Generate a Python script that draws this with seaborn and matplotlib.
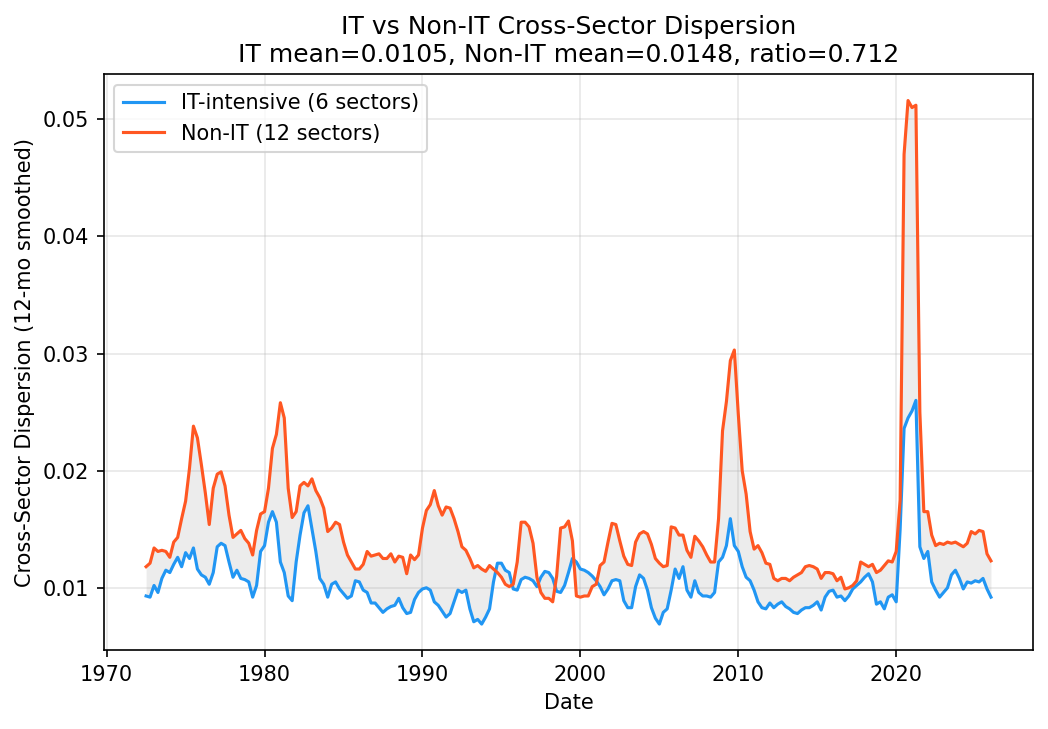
import pandas as pd
import numpy as np
import matplotlib
matplotlib.use("Agg")
import matplotlib.pyplot as plt
import seaborn as sns

# Quarterly samples, 1972 Q3 .. 2026 Q1
start_date = "1972-07-01"

it_vals = [
    0.0093, 0.0092,                          # 1972 (Q3, Q4)
    0.0102, 0.0096, 0.0108, 0.0115,          # 1973
    0.0113, 0.0120, 0.0126, 0.0118,          # 1974
    0.0130, 0.0125, 0.0134, 0.0116,          # 1975
    0.0111, 0.0109, 0.0103, 0.0113,          # 1976
    0.0135, 0.0138, 0.0136, 0.0122,          # 1977
    0.0109, 0.0115, 0.0108, 0.0107,          # 1978
    0.0105, 0.0092, 0.0102, 0.0131,          # 1979
    0.0136, 0.0156, 0.0165, 0.0156,          # 1980
    0.0122, 0.0113, 0.0093, 0.0089,          # 1981
    0.0122, 0.0145, 0.0164, 0.0170,          # 1982
    0.0150, 0.0131, 0.0108, 0.0103,          # 1983
    0.0092, 0.0103, 0.0105, 0.0099,          # 1984
    0.0095, 0.0091, 0.0093, 0.0106,          # 1985
    0.0105, 0.0098, 0.0096, 0.0087,          # 1986
    0.0087, 0.0083, 0.0079, 0.0082,          # 1987
    0.0084, 0.0085, 0.0091, 0.0083,          # 1988
    0.0078, 0.0079, 0.0090, 0.0096,          # 1989
    0.0099, 0.0100, 0.0098, 0.0088,          # 1990
    0.0085, 0.0080, 0.0075, 0.0078,          # 1991
    0.0088, 0.0098, 0.0096, 0.0098,          # 1992
    0.0082, 0.0071, 0.0073, 0.0069,          # 1993
    0.0075, 0.0082, 0.0105, 0.0121,          # 1994
    0.0121, 0.0115, 0.0113, 0.0099,          # 1995
    0.0098, 0.0107, 0.0109, 0.0108,          # 1996
    0.0106, 0.0101, 0.0109, 0.0114,          # 1997
    0.0113, 0.0108, 0.0097, 0.0096,          # 1998
    0.0102, 0.0113, 0.0125, 0.0122,          # 1999
    0.0116, 0.0115, 0.0113, 0.0110,          # 2000
    0.0106, 0.0101, 0.0094, 0.0099,          # 2001
    0.0106, 0.0107, 0.0106, 0.0089,          # 2002
    0.0083, 0.0083, 0.0101, 0.0111,          # 2003
    0.0108, 0.0098, 0.0083, 0.0074,          # 2004
    0.0069, 0.0079, 0.0082, 0.0098,          # 2005
    0.0116, 0.0108, 0.0118, 0.0098,          # 2006
    0.0092, 0.0106, 0.0096, 0.0093,          # 2007
    0.0093, 0.0092, 0.0096, 0.0122,          # 2008
    0.0126, 0.0136, 0.0159, 0.0136,          # 2009
    0.0131, 0.0118, 0.0109, 0.0106,          # 2010
    0.0098, 0.0088, 0.0083, 0.0082,          # 2011
    0.0087, 0.0083, 0.0086, 0.0088,          # 2012
    0.0084, 0.0082, 0.0079, 0.0078,          # 2013
    0.0081, 0.0083, 0.0083, 0.0085,          # 2014
    0.0088, 0.0081, 0.0092, 0.0097,          # 2015
    0.0098, 0.0092, 0.0093, 0.0089,          # 2016
    0.0093, 0.0099, 0.0102, 0.0105,          # 2017
    0.0109, 0.0112, 0.0105, 0.0086,          # 2018
    0.0088, 0.0082, 0.0092, 0.0094,          # 2019
    0.0088, 0.0150, 0.0236, 0.0245,          # 2020
    0.0251, 0.0260, 0.0135, 0.0125,          # 2021
    0.0131, 0.0105, 0.0098, 0.0092,          # 2022
    0.0096, 0.0100, 0.0111, 0.0115,          # 2023
    0.0108, 0.0099, 0.0105, 0.0104,          # 2024
    0.0106, 0.0105, 0.0108, 0.0099,          # 2025
    0.0092,                                  # 2026
]

non_it_vals = [
    0.0118, 0.0121,                          # 1972 (Q3, Q4)
    0.0134, 0.0131, 0.0132, 0.0131,          # 1973
    0.0126, 0.0139, 0.0143, 0.0159,          # 1974
    0.0174, 0.0202, 0.0238, 0.0228,          # 1975
    0.0205, 0.0181, 0.0154, 0.0185,          # 1976
    0.0197, 0.0199, 0.0187, 0.0162,          # 1977
    0.0143, 0.0146, 0.0149, 0.0142,          # 1978
    0.0138, 0.0128, 0.0149, 0.0163,          # 1979
    0.0165, 0.0185, 0.0219, 0.0231,          # 1980
    0.0258, 0.0245, 0.0185, 0.0160,          # 1981
    0.0165, 0.0187, 0.0190, 0.0187,          # 1982
    0.0193, 0.0183, 0.0177, 0.0168,          # 1983
    0.0148, 0.0151, 0.0156, 0.0154,          # 1984
    0.0139, 0.0128, 0.0122, 0.0116,          # 1985
    0.0116, 0.0120, 0.0131, 0.0127,          # 1986
    0.0128, 0.0129, 0.0125, 0.0125,          # 1987
    0.0129, 0.0122, 0.0127, 0.0126,          # 1988
    0.0112, 0.0128, 0.0124, 0.0128,          # 1989
    0.0151, 0.0166, 0.0171, 0.0183,          # 1990
    0.0170, 0.0162, 0.0169, 0.0168,          # 1991
    0.0159, 0.0148, 0.0135, 0.0132,          # 1992
    0.0125, 0.0117, 0.0119, 0.0116,          # 1993
    0.0114, 0.0119, 0.0116, 0.0113,          # 1994
    0.0109, 0.0103, 0.0101, 0.0103,          # 1995
    0.0122, 0.0156, 0.0156, 0.0152,          # 1996
    0.0138, 0.0109, 0.0096, 0.0091,          # 1997
    0.0091, 0.0088, 0.0110, 0.0151,          # 1998
    0.0152, 0.0157, 0.0140, 0.0093,          # 1999
    0.0092, 0.0093, 0.0093, 0.0101,          # 2000
    0.0103, 0.0119, 0.0122, 0.0139,          # 2001
    0.0155, 0.0154, 0.0140, 0.0127,          # 2002
    0.0120, 0.0119, 0.0139, 0.0146,          # 2003
    0.0148, 0.0146, 0.0137, 0.0125,          # 2004
    0.0121, 0.0118, 0.0119, 0.0152,          # 2005
    0.0151, 0.0145, 0.0145, 0.0132,          # 2006
    0.0126, 0.0144, 0.0140, 0.0135,          # 2007
    0.0128, 0.0122, 0.0122, 0.0159,          # 2008
    0.0234, 0.0259, 0.0294, 0.0303,          # 2009
    0.0248, 0.0200, 0.0180, 0.0148,          # 2010
    0.0133, 0.0136, 0.0130, 0.0121,          # 2011
    0.0120, 0.0108, 0.0106, 0.0108,          # 2012
    0.0108, 0.0106, 0.0109, 0.0111,          # 2013
    0.0113, 0.0118, 0.0119, 0.0118,          # 2014
    0.0116, 0.0108, 0.0113, 0.0113,          # 2015
    0.0112, 0.0106, 0.0109, 0.0099,          # 2016
    0.0100, 0.0102, 0.0106, 0.0122,          # 2017
    0.0120, 0.0118, 0.0120, 0.0113,          # 2018
    0.0115, 0.0119, 0.0123, 0.0122,          # 2019
    0.0131, 0.0175, 0.0470, 0.0516,          # 2020
    0.0510, 0.0512, 0.0250, 0.0165,          # 2021
    0.0165, 0.0145, 0.0136, 0.0138,          # 2022
    0.0137, 0.0139, 0.0138, 0.0139,          # 2023
    0.0137, 0.0135, 0.0138, 0.0148,          # 2024
    0.0146, 0.0149, 0.0148, 0.0129,          # 2025
    0.0123,                                  # 2026
]

it_label = "IT-intensive (6 sectors)"
non_it_label = "Non-IT (12 sectors)"
title = ("IT vs Non-IT Cross-Sector Dispersion\n"
         "IT mean=0.0105, Non-IT mean=0.0148, ratio=0.712")

dates = pd.date_range(start_date, periods=len(it_vals), freq="QS-JAN")

df = pd.DataFrame({
    "Date": np.concatenate([dates, dates]),
    "value": it_vals + non_it_vals,
    "group": [it_label] * len(it_vals) + [non_it_label] * len(non_it_vals),
})

fig, ax = plt.subplots(figsize=(6.993, 4.86), dpi=150)
fig.subplots_adjust(left=0.099, right=0.985, top=0.898, bottom=0.108)

sns.lineplot(data=df, x="Date", y="value", hue="group",
             palette={it_label: "#2196F3", non_it_label: "#FF5722"},
             linewidth=1.5, ax=ax)
ax.fill_between(dates, it_vals, non_it_vals, color="gray", alpha=0.15, linewidth=0)

ax.set_title(title)
ax.set_xlabel("Date")
ax.set_ylabel("Cross-Sector Dispersion (12-mo smoothed)")
ax.grid(True, alpha=0.3)
ax.legend(loc="upper left")

fig.savefig("out.png", dpi=150)
